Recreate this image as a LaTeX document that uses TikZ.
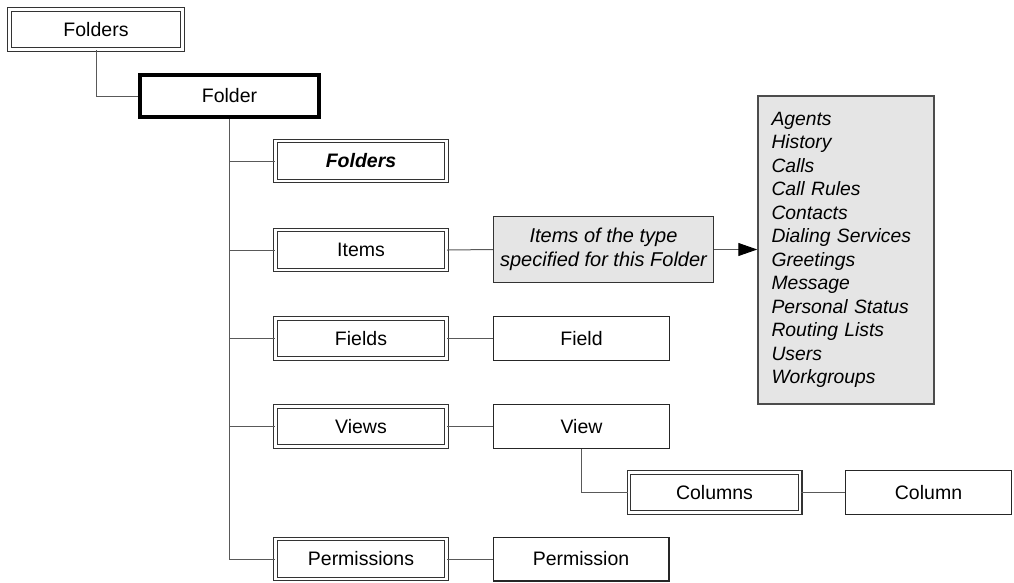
\documentclass[tikz,border=0pt]{standalone}
\usepackage{fontspec}
\setmainfont{Liberation Sans}
\usetikzlibrary{arrows.meta}

\begin{document}
\begin{tikzpicture}[x=1pt,y=-1pt,
  base/.style={fill=white, inner sep=0pt, text=black,
    font=\fontsize{19.5}{22}\selectfont},
  plainbox/.style={base, draw=black!85, line width=1.3pt,
    minimum width=175.7pt, minimum height=43.7pt},
  dblbox/.style={base, draw=black!80, line width=1.1pt, double=white,
    double distance=2.6pt, minimum width=171.2pt, minimum height=40pt},
  thickbox/.style={base, draw=black, line width=4pt,
    minimum width=179pt, minimum height=42pt},
  notebox/.style={base, draw=black!80, fill=black!10, line width=1.3pt,
    minimum width=220pt, minimum height=66pt, align=center,
    font=\fontsize{20}{24}\selectfont\itshape},
  listbox/.style={base, draw=black!70, fill=black!10, line width=1.5pt,
    minimum width=176pt, minimum height=308pt, text width=149pt,
    align=left, font=\fontsize{19.3}{23.5}\selectfont\itshape},
  conn/.style={draw=black!65, line width=1pt},
  arr/.style={conn, -{Triangle[length=19pt,width=13pt,fill=black,color=black]}}
]
\useasboundingbox (0,0) rectangle (1014,582);

% top of the hierarchy
\node[dblbox, minimum width=173.5pt] (ftop) at (96,29.5) {Folders};
\node[thickbox] (folder) at (229.5,96) {Folder};

% children of a folder
\node[dblbox] (subf)  at (361,161)   {\textbf{\textit{Folders}}};
\node[dblbox] (items) at (361,250)   {Items};
\node[dblbox] (fields) at (361,338.5) {Fields};
\node[dblbox] (views) at (361,426.5) {Views};
\node[dblbox] (perms) at (361,559)   {Permissions};

% item types
\node[notebox] (note) at (603.5,249.5) {Items of the type\\specified for this Folder};
\node[listbox] (types) at (846,250) {Agents\\History\\Calls\\Call Rules\\Contacts\\Dialing Services\\Greetings\\Message\\Personal Status\\Routing Lists\\Users\\Workgroups};

% single members
\node[plainbox] (field) at (581.5,338.5) {Field};
\node[plainbox] (view)  at (581.5,426.5) {View};
\node[dblbox]   (cols)  at (714.5,492.5) {Columns};
\node[plainbox, minimum width=165.7pt] (col) at (928.5,492.5) {Column};
\node[plainbox] (perm)  at (581,559)     {Permission};

% connectors
\draw[conn] (ftop.south) |- (folder.west);
\draw[conn] (folder.south) |- (perms.west);
\foreach \c in {subf,items,fields,views}
  \draw[conn] (folder.south |- \c.west) -- (\c.west);
\draw[conn] (items.east) -- (note.west);
\draw[arr] (note.east) -- (note.east -| types.west);
\draw[conn] (fields.east) -- (field.west);
\draw[conn] (views.east) -- (view.west);
\draw[conn] (view.south) |- (cols.west);
\draw[conn] (cols.east) -- (col.west);
\draw[conn] (perms.east) -- (perm.west);
\end{tikzpicture}
\end{document}
